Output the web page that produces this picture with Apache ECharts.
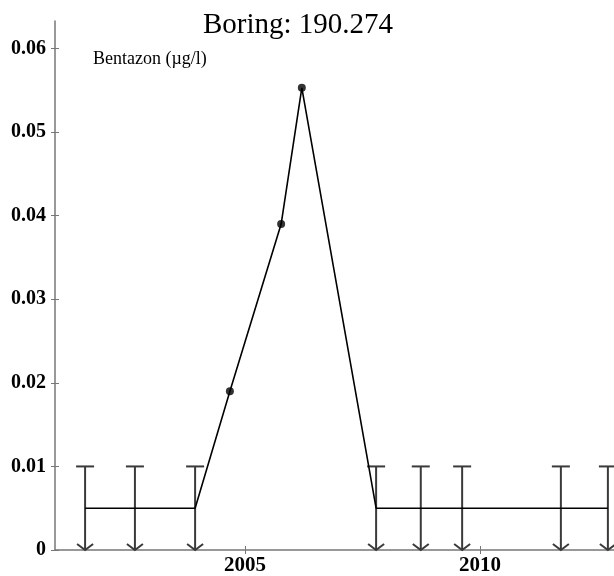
<!DOCTYPE html>
<html>
<head>
<meta charset="utf-8">
<script src="https://cdn.jsdelivr.net/npm/echarts@6/dist/echarts.min.js"></script>
<style>
html,body{margin:0;padding:0;background:#fff;}
#chart{width:614px;height:576px;}
</style>
</head>
<body>
<div id="chart"></div>
<script>
// ---- data ----
const titleText = 'Boring: 190.274';
const seriesLabel = 'Bentazon (\u00b5g/l)';
// samples below detection limit: year, detection limit, plotted level
const bdlYears  = [2001.60, 2002.66, 2003.94, 2007.79, 2008.74, 2009.62, 2011.72, 2012.72];
const bdlLimits = [0.01, 0.01, 0.01, 0.01, 0.01, 0.01, 0.01, 0.01];
const bdlLevels = [0.005, 0.005, 0.005, 0.005, 0.005, 0.005, 0.005, 0.005];
// detected samples
const detYears  = [2004.68, 2005.77, 2006.21];
const detValues = [0.019, 0.039, 0.0553];
// axis ticks
const yTicks = [0, 0.01, 0.02, 0.03, 0.04, 0.05, 0.06];
const xTicks = [2005, 2010];

const FONT = '"Liberation Serif", "Times New Roman", serif';
const AXIS_COLOR = '#777';

const linePts = bdlYears.map((y, i) => [y, bdlLevels[i]])
  .concat(detYears.map((y, i) => [y, detValues[i]]))
  .sort((a, b) => a[0] - b[0]);
const bdlData = bdlYears.map((y, i) => [y, bdlLimits[i]]);
const detData = detYears.map((y, i) => [y, detValues[i]]);

const xMin = 2000.96, xMax = 2012.85, yMax = 0.0633;

const chart = echarts.init(document.getElementById('chart'), null, {renderer: 'canvas'});
const yLabelFmt = v => (v === 0 ? '0' : v.toFixed(2));

chart.setOption({
  backgroundColor: '#fff',
  animation: false,
  title: [
    {text: titleText, left: 298, textAlign: 'center', top: 11, padding: 0,
     textStyle: {fontFamily: FONT, fontSize: 29, fontWeight: 'normal', color: '#000'}},
    {text: seriesLabel, left: 93, top: 50, padding: 0,
     textStyle: {fontFamily: FONT, fontSize: 18, fontWeight: 'normal', color: '#000'}}
  ],
  grid: {left: 55, right: 0, top: 21, bottom: 23, containLabel: false},
  xAxis: [
    {type: 'value', min: xMin, max: xMax, position: 'bottom',
     axisLine: {show: true, onZero: false, lineStyle: {color: AXIS_COLOR, width: 1.5}},
     axisTick: {show: true, length: 4, customValues: xTicks, lineStyle: {color: AXIS_COLOR}},
     axisLabel: {show: true, customValues: xTicks, margin: 5, fontFamily: FONT, fontSize: 21,
                 fontWeight: 'bold', color: '#000', formatter: v => String(Math.round(v))},
     splitLine: {show: false}},
    {type: 'value', min: xMin, max: xMax, position: 'bottom',
     axisLine: {show: false, onZero: false},
     axisTick: {show: true, inside: true, length: 4, customValues: xTicks, lineStyle: {color: AXIS_COLOR}},
     axisLabel: {show: false}, splitLine: {show: false}}
  ],
  yAxis: [
    {type: 'value', min: 0, max: yMax, position: 'left',
     axisLine: {show: true, onZero: false, lineStyle: {color: AXIS_COLOR, width: 1.5}},
     axisTick: {show: true, length: 4, customValues: yTicks, lineStyle: {color: AXIS_COLOR}},
     axisLabel: {show: true, customValues: yTicks, margin: 9, fontFamily: FONT, fontSize: 20,
                 fontWeight: 'bold', color: '#000', formatter: yLabelFmt},
     splitLine: {show: false}},
    {type: 'value', min: 0, max: yMax, position: 'left',
     axisLine: {show: false, onZero: false},
     axisTick: {show: true, inside: true, length: 4, customValues: yTicks, lineStyle: {color: AXIS_COLOR}},
     axisLabel: {show: false}, splitLine: {show: false}}
  ],
  series: [
    {
      type: 'custom', name: 'bdl', data: bdlData, clip: false, z: 3,
      renderItem: function (params, api) {
        const x = api.value(0), lim = api.value(1);
        const top = api.coord([x, lim]);
        const bot = api.coord([x, 0]);
        const style = {stroke: '#3a3a3a', lineWidth: 2, fill: null};
        const cw = 9, aw = 8, ah = 6;
        return {
          type: 'group',
          children: [
            {type: 'line', shape: {x1: top[0], y1: top[1], x2: bot[0], y2: bot[1]}, style},
            {type: 'line', shape: {x1: top[0] - cw, y1: top[1], x2: top[0] + cw, y2: top[1]}, style},
            {type: 'polyline', shape: {points: [[bot[0] - aw, bot[1] - ah], [bot[0], bot[1]], [bot[0] + aw, bot[1] - ah]]}, style}
          ]
        };
      }
    },
    {
      type: 'line', name: 'trend', data: linePts, showSymbol: false, symbol: 'none', z: 4,
      lineStyle: {color: '#000', width: 1.6}
    },
    {
      type: 'scatter', name: 'detected', data: detData, symbol: 'circle', symbolSize: 8, z: 5,
      itemStyle: {color: '#000'}
    }
  ]
});
</script>
</body>
</html>
